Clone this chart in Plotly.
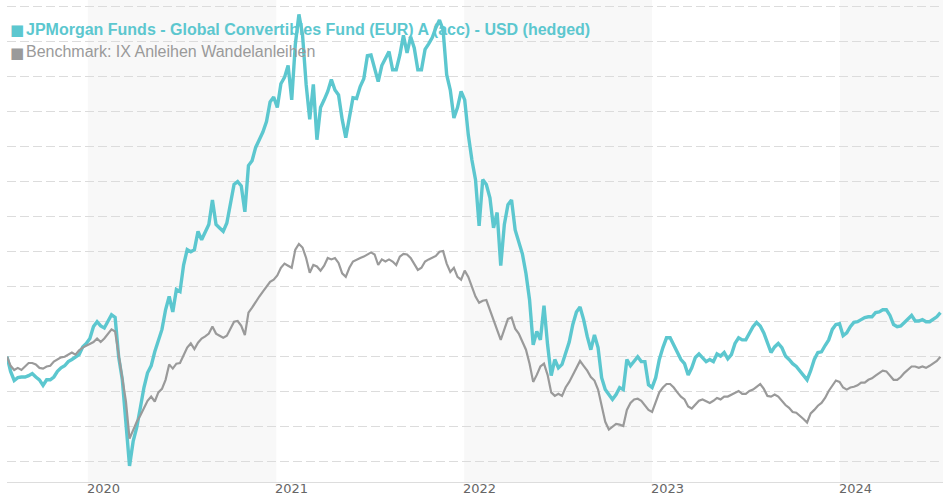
import pandas as pd
import plotly.graph_objects as go

# Weekly performance (%), starting 2019-07-28
fund = [
    0.0, -2.1, -3.4, -3.0, -2.9, -2.9, -2.7, -2.4, -2.9, -3.3,
    -4.1, -3.3, -3.3, -2.9, -2.1, -1.6, -1.3, -0.7, -0.4, -0.1,
    0.3, 1.4, 1.9, 2.6, 4.3, 5.0, 4.4, 4.1, 5.0, 6.0,
    5.6, -0.1, -3.3, -9.0, -15.6, -12.1, -10.1, -7.3, -4.4, -2.3,
    -1.3, 0.7, 2.4, 3.9, 6.7, 8.6, 6.4, 9.6, 9.3, 13.1,
    15.3, 15.0, 15.3, 17.9, 16.7, 17.7, 18.9, 22.4, 18.9, 18.4,
    17.9, 19.1, 22.1, 24.6, 25.0, 24.4, 20.7, 27.3, 28.0, 29.9,
    31.0, 32.1, 33.6, 36.4, 37.1, 35.6, 39.0, 39.9, 41.6, 36.7,
    44.6, 48.9, 46.0, 38.9, 33.9, 38.9, 31.0, 35.6, 36.7, 37.9,
    39.6, 38.1, 37.4, 33.9, 31.3, 33.9, 37.0, 36.9, 38.6, 39.7,
    43.0, 43.1, 41.3, 39.3, 41.6, 42.7, 43.6, 41.0, 41.0, 43.1,
    45.9, 43.4, 45.7, 44.1, 41.0, 41.0, 43.9, 44.7, 45.6, 47.0,
    48.1, 46.7, 40.3, 38.1, 34.1, 35.6, 37.9, 36.7, 31.7, 28.1,
    25.3, 18.7, 25.3, 24.6, 22.7, 18.4, 20.6, 13.0, 18.9, 21.7,
    22.4, 18.1, 16.4, 14.7, 11.9, 8.1, 1.7, 3.6, 2.4, 7.3,
    1.7, -2.7, -0.4, -1.6, -1.1, 0.7, 2.1, 4.6, 6.4, 7.1,
    5.3, 2.9, 1.0, 3.1, 1.3, -3.0, -4.7, -5.4, -6.1, -5.4,
    -4.4, -4.7, -0.4, -1.3, -0.7, 0.0, -0.7, -0.7, -4.0, -4.4,
    -3.0, -0.4, 1.3, 2.7, 2.7, 1.7, 0.7, -0.4, -1.0, -2.6,
    -1.6, -0.1, 0.4, -0.1, -0.7, -0.4, -0.7, 0.4, 0.1, 0.6,
    -0.3, 0.3, 1.9, 2.7, 2.4, 2.4, 3.4, 4.3, 4.9, 4.4,
    3.4, 2.0, 0.6, 1.4, 1.9, 1.3, 0.1, -0.4, -1.0, -1.4,
    -2.1, -2.7, -3.3, -2.0, -0.4, 0.6, 0.7, 1.6, 2.4, 3.9,
    4.6, 4.7, 3.0, 3.4, 4.3, 4.9, 5.0, 5.3, 5.6, 5.7,
    5.7, 6.3, 6.4, 6.7, 6.7, 5.9, 4.6, 4.3, 4.4, 4.9,
    5.4, 5.9, 5.1, 5.1, 5.3, 5.0, 5.0, 5.3, 5.7, 6.3,
]

benchmark = [
    0.0, -1.3, -1.9, -1.6, -1.9, -1.4, -0.9, -0.9, -1.1, -1.6,
    -1.7, -1.4, -1.3, -0.7, -0.4, -0.1, 0.0, 0.3, 0.6, 0.3,
    0.9, 1.3, 1.6, 1.9, 2.1, 2.6, 2.1, 2.6, 3.3, 3.9,
    3.6, 0.1, -3.0, -6.4, -11.7, -10.4, -9.3, -8.4, -7.3, -6.3,
    -5.7, -6.4, -5.1, -4.6, -3.3, -1.1, -1.7, -1.0, -0.9, 0.3,
    1.3, 1.9, 1.1, 2.0, 2.6, 2.9, 3.3, 4.3, 3.3, 3.0,
    2.7, 3.0, 4.0, 5.0, 5.1, 4.4, 3.1, 6.3, 7.0, 7.9,
    8.6, 9.3, 10.0, 10.7, 11.0, 11.6, 12.7, 13.3, 13.0, 12.7,
    15.3, 16.1, 15.6, 14.1, 12.0, 13.1, 12.9, 12.3, 13.0, 14.1,
    13.9, 14.1, 13.4, 11.9, 11.4, 12.7, 13.6, 13.9, 14.1, 14.3,
    14.6, 14.9, 14.6, 13.1, 13.9, 13.6, 13.9, 13.6, 13.1, 14.3,
    14.7, 14.6, 14.1, 13.3, 12.4, 12.7, 13.6, 13.9, 14.1, 14.4,
    15.0, 15.1, 13.3, 12.1, 12.7, 11.4, 11.0, 12.3, 11.4, 10.1,
    8.6, 7.7, 8.0, 8.1, 6.6, 5.3, 3.9, 2.4, 3.9, 5.4,
    5.6, 4.0, 3.3, 2.1, 1.0, -1.0, -3.6, -2.6, -1.4, -1.0,
    -2.6, -5.1, -5.6, -5.3, -5.6, -4.4, -3.6, -2.6, -1.6, -0.6,
    -1.3, -2.0, -2.9, -3.4, -4.7, -6.9, -9.3, -10.4, -10.0, -9.6,
    -9.7, -9.9, -7.6, -6.6, -6.1, -6.0, -6.3, -7.0, -7.6, -7.9,
    -6.6, -5.1, -4.4, -3.9, -3.9, -4.4, -5.1, -5.7, -6.1, -7.1,
    -7.4, -6.9, -6.3, -6.1, -6.3, -6.6, -6.3, -5.9, -6.1, -5.7,
    -5.7, -5.4, -5.1, -4.9, -5.3, -5.3, -4.9, -4.7, -4.3, -3.9,
    -4.6, -5.6, -5.7, -5.4, -5.7, -6.3, -6.9, -7.3, -7.9, -8.0,
    -8.4, -8.9, -9.4, -8.1, -7.6, -7.0, -6.6, -5.9, -4.9, -4.1,
    -3.4, -3.6, -4.4, -4.7, -4.4, -4.3, -4.1, -3.7, -3.7, -3.3,
    -3.1, -2.7, -2.4, -2.0, -2.1, -2.7, -3.3, -3.3, -2.9, -2.3,
    -1.9, -1.4, -1.4, -1.6, -1.4, -1.6, -1.3, -1.0, -0.6, 0.0,
]

dates = pd.date_range("2019-07-28", periods=len(fund), freq="7D")

year_labels = ["2020", "2021", "2022", "2023", "2024"]
year_starts = ["2020-01-01", "2021-01-01", "2022-01-01", "2023-01-01", "2024-01-01"]
shaded_years = [("2020-01-01", "2021-01-01"), ("2022-01-01", "2023-01-01"), ("2024-01-01", "2024-07-19")]

fund_name = "JPMorgan Funds - Global Convertibles Fund (EUR) A (acc) - USD (hedged)"
bench_name = "Benchmark: IX Anleihen Wandelanleihen"

TEAL = "#5cc7cf"
GREY = "#9a9a9a"

fig = go.Figure()
fig.add_trace(go.Scatter(x=dates, y=fund, mode="lines", name=fund_name,
                         line=dict(color=TEAL, width=3.4), showlegend=False))
fig.add_trace(go.Scatter(x=dates, y=benchmark, mode="lines", name=bench_name,
                         line=dict(color=GREY, width=2.2), showlegend=False))

shapes = []
for x0, x1 in shaded_years:
    shapes.append(dict(type="rect", xref="x", yref="paper", x0=x0, x1=x1, y0=0, y1=1,
                       fillcolor="#f8f8f8", line=dict(width=0), layer="below"))

annotations = []
for lab, d in zip(year_labels, year_starts):
    annotations.append(dict(x=d, y=0, xref="x", yref="paper", text=lab, showarrow=False,
                            xanchor="left", yanchor="middle", yshift=-6, xshift=-3,
                            font=dict(family="DejaVu Sans, Verdana, sans-serif", size=13, color="#666666")))

fig.update_layout(
    width=943, height=500,
    margin=dict(l=7, r=0, t=0, b=18),
    paper_bgcolor="white", plot_bgcolor="white",
    shapes=shapes,
    annotations=annotations,
    xaxis=dict(range=["2019-07-28", "2024-07-19"], showgrid=False, showticklabels=False,
               ticks="", showline=True, linecolor="#dddddd", linewidth=1, zeroline=False),
    yaxis=dict(range=[-17.90, 50.96], tick0=0, dtick=5, showgrid=True, gridcolor="#dcdcdc",
               griddash="9px,4px", gridwidth=1, showticklabels=False, zeroline=False, ticks=""),
    hovermode=False,
)

legend_font = "Liberation Sans, Arial, Helvetica, sans-serif"


def px_to_paper_x(px):
    return (px - 7) / 936.0


def px_to_paper_y(py):
    return (482 - py) / 482.0


legend_rows = [(fund_name, TEAL, True, 29), (bench_name, GREY, False, 52)]
for text, col, bold, ypix in legend_rows:
    fig.add_annotation(x=px_to_paper_x(8), y=px_to_paper_y(ypix + 1), xref="paper", yref="paper",
                       text="■", showarrow=False, xanchor="left", yanchor="middle",
                       font=dict(family="DejaVu Sans, sans-serif", size=15, color=col))
    fig.add_annotation(x=px_to_paper_x(24), y=px_to_paper_y(ypix), xref="paper", yref="paper",
                       text=f"<b>{text}</b>" if bold else text, showarrow=False,
                       xanchor="left", yanchor="middle",
                       font=dict(family=legend_font, size=16, color=col))

fig.write_html("out.html", config={"displayModeBar": False},
               post_script="document.body.style.margin='0px';document.body.style.padding='0px';")
